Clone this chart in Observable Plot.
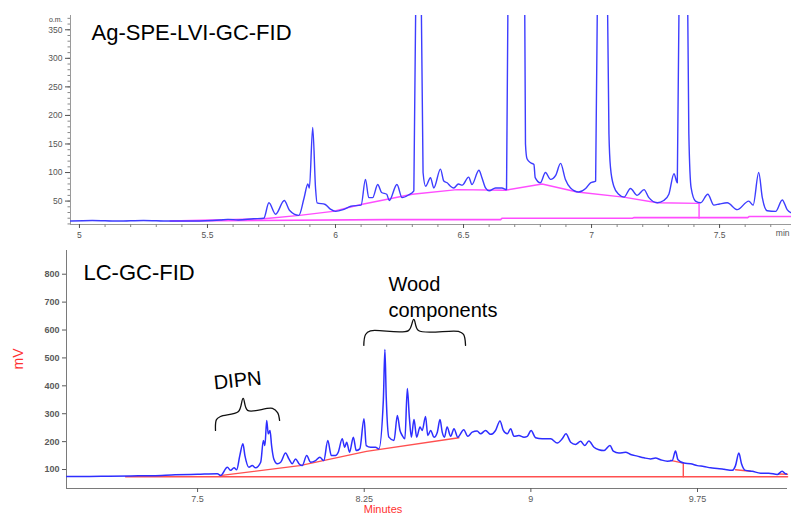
<!DOCTYPE html>
<html><head><meta charset="utf-8">
<script src="https://cdn.jsdelivr.net/npm/d3@7"></script>
<script src="https://cdn.jsdelivr.net/npm/@observablehq/plot@0.6"></script>
<style>
body{margin:0;background:#fff;font-family:"Liberation Sans",Arial,sans-serif;}
#wrap{position:relative;width:791px;height:516px;overflow:hidden;background:#fff;}
#top,#bottom{position:absolute;left:0;}
#top{top:0;}
#bottom{top:240px;}
</style></head>
<body><div id="wrap"><div id="top"></div><div id="bottom"></div></div>
<script>
// ---------- Top panel: Ag-SPE-LVI-GC-FID ----------
const topTitle = "Ag-SPE-LVI-GC-FID";
const topXTicks = [5, 5.5, 6, 6.5, 7, 7.5];
const topYTicks = [50, 100, 150, 200, 250, 300, 350];
const topTime = [4.965,5.05,5.15,5.25,5.35,5.45,5.55,5.58,5.62,5.68,5.72,5.74,5.766,5.80,5.82,5.857,5.877,5.892,5.898,5.911,5.922,5.928,5.96,5.98,6.0,6.03,6.06,6.10,6.117,6.13,6.145,6.165,6.18,6.2,6.21,6.24,6.26,6.286,6.306,6.315,6.324,6.333,6.342,6.352,6.371,6.384,6.41,6.423,6.436,6.449,6.462,6.48,6.495,6.52,6.533,6.56,6.572,6.586,6.60,6.625,6.65,6.668,6.676,6.70,6.72,6.737,6.742,6.748,6.762,6.775,6.78,6.80,6.82,6.84,6.86,6.879,6.898,6.918,6.95,6.977,6.996,7.016,7.026,7.043,7.058,7.068,7.074,7.087,7.106,7.127,7.152,7.178,7.205,7.224,7.257,7.282,7.302,7.322,7.335,7.345,7.36,7.372,7.38,7.389,7.406,7.426,7.454,7.478,7.50,7.53,7.569,7.614,7.631,7.653,7.667,7.686,7.719,7.745,7.764,7.781];
const topSignal = [15,16,15,16,15,15,17,18,17,19,20,47,27,51,34,25,55,80,73,179,73,47,44,36,32,35,41,43,88,56,56,79,65,62,51,79,56,61,68,500,1200,500,100,76,91,73,106,85,82,76,73,80,78,92,79,104,91,73,68,73,73,70,600,1500,1400,600,150,124,117,114,91,82,100,88,95,116,88,73,66,72,82,85,600,1300,600,168,109,76,62,57,72,60,70,56,47,51,62,98,82,600,1100,600,168,73,50,47,62,43,45,47,35,50,43,100,56,33,32,52,35,29];
const topBaseTime = [5.355,5.72,5.86,5.99,6.10,6.30,6.475,6.664,6.807,6.944,7.125,7.257,7.42,7.42];
const topBaseSignal = [15,19,25,32,44,62,70,69,80,66,57,47,46,20];
const topFloorTime = [5.355,6.2,6.645,6.65,7.16,7.165,7.61,7.615,7.781];
const topFloorSignal = [15,17.6,17.6,19.9,19.9,21.1,21.1,22.9,22.9];

// ---------- Bottom panel: LC-GC-FID ----------
const botTitle = "LC-GC-FID";
const botXTicks = [7.5, 8.25, 9, 9.75];
const botYTicks = [100, 200, 300, 400, 500, 600, 700, 800];
const botTime = [6.91,7.0,7.1,7.2,7.3,7.4,7.5,7.589,7.604,7.634,7.649,7.664,7.676,7.69,7.704,7.713,7.731,7.746,7.761,7.784,7.796,7.803,7.811,7.818,7.826,7.833,7.843,7.859,7.874,7.896,7.911,7.926,7.941,7.956,7.971,7.991,8.009,8.031,8.05,8.068,8.086,8.102,8.121,8.133,8.151,8.162,8.171,8.184,8.201,8.214,8.23,8.249,8.259,8.279,8.301,8.316,8.336,8.343,8.349,8.361,8.384,8.399,8.411,8.421,8.433,8.444,8.453,8.462,8.474,8.486,8.501,8.511,8.526,8.536,8.549,8.564,8.579,8.591,8.601,8.611,8.623,8.639,8.654,8.671,8.698,8.716,8.736,8.758,8.774,8.796,8.819,8.841,8.861,8.876,8.894,8.909,8.924,8.946,8.969,8.984,9.001,9.021,9.051,9.089,9.119,9.141,9.158,9.179,9.201,9.224,9.242,9.261,9.284,9.306,9.329,9.356,9.371,9.396,9.426,9.449,9.479,9.509,9.539,9.561,9.584,9.614,9.636,9.651,9.662,9.689,9.719,9.749,9.778,9.809,9.839,9.869,9.906,9.921,9.936,9.948,9.966,9.996,10.034,10.071,10.109,10.131,10.146,10.155];
const botSignal = [75,75,76,77,78,81,83,85,79,108,97,106,99,150,192,150,108,114,106,126,204,186,276,228,240,186,138,121,126,159,138,121,138,121,114,150,126,132,144,132,204,150,150,162,210,180,198,162,216,168,174,282,186,180,180,174,348,530,360,216,204,294,240,222,210,390,288,216,279,216,252,240,290,222,240,216,234,279,234,216,252,219,246,216,243,219,234,238,228,240,226,240,274,240,228,246,219,222,216,219,240,214,210,210,195,210,228,198,190,201,186,202,180,171,168,186,166,159,162,154,148,142,138,141,135,130,132,166,135,123,121,114,111,106,104,101,97,114,159,121,97,94,87,87,82,94,85,84];
const botBaseTime = [7.60,7.96,8.26,8.676];
const botBaseSignal = [78,114,165,214];
const botBase2Time = [9.629,9.686,9.686];
const botBase2Signal = [133,123,74];
const botBase3Time = [9.921,9.989];
const botBase3Signal = [99,94];
const botBase4Time = [10.115,10.155];
const botBase4Signal = [84,83];
const botFloorTime = [7.176,10.155];
const botFloorSignal = [74,74];

// annotation labels and brace anchor points (data units)
const dipnLabel = "DIPN";
const woodLabel = ["Wood", "components"];
const dipnBraceTime = [7.5806,7.585,7.603,7.684,7.705,7.725,7.837,7.86,7.869];
const dipnBraceSignal = [240,279,290,308,355,312,319,304,276];
const woodBraceTime = [8.248,8.256,8.278,8.449,8.473,8.494,8.674,8.697,8.706];
const woodBraceSignal = [545,584,597,598,638,598,595,584,545];

const zip = (xs, ys) => xs.map((x, i) => ({x, y: ys[i]}));
const font = "'Liberation Sans', Arial, Helvetica, sans-serif";
const plain = d => String(d);

// ---- top chart ----
const tX = [4.965, 7.781], tY = [9, 375];
const topChart = Plot.plot({
  width: 791, height: 240,
  marginLeft: 70, marginRight: 0, marginTop: 15, marginBottom: 16,
  style: {fontFamily: font, background: "transparent"},
  x: {domain: tX},
  y: {domain: tY},
  marks: [
    Plot.ruleX([tX[0]], {stroke: "#9a9a9a"}),
    Plot.ruleY([tY[0]], {stroke: "#9a9a9a"}),
    Plot.axisY(d3.range(10, 371, 10), {tickSize: 2.5, tickFormat: () => "", color: "#888", label: null}),
    Plot.axisY(topYTicks, {tickSize: 5, tickPadding: 3, fontSize: 8.5, tickFormat: plain, color: "#555", label: null}),
    Plot.axisX(d3.range(5, 7.8, 0.1), {tickSize: 3, tickFormat: () => "", color: "#888", label: null}),
    Plot.axisX(topXTicks, {tickSize: 4, tickPadding: 3, fontSize: 8.5, tickFormat: plain, color: "#555", label: null}),
    Plot.line(zip(topFloorTime, topFloorSignal), {x: "x", y: "y", stroke: "#ff4dff", strokeWidth: 1.6}),
    Plot.line(zip(topBaseTime, topBaseSignal), {x: "x", y: "y", stroke: "#ff4dff", strokeWidth: 1.4}),
    Plot.line(zip(topTime, topSignal), {x: "x", y: "y", stroke: "#3d3dff", strokeWidth: 1.4, curve: "monotone-x", clip: true}),
    Plot.text([topTitle], {x: 5.047, y: 345, textAnchor: "start", fontSize: 22, fill: "#000"}),
    Plot.text(["o.m."], {frameAnchor: "top-left", dx: -8, dy: 2, textAnchor: "end", fontSize: 7, fill: "#444"}),
    Plot.text(["min"], {frameAnchor: "bottom-right", dx: -2, dy: 11, textAnchor: "end", fontSize: 8.5, fill: "#555"})
  ]
});
document.getElementById("top").append(topChart);

// ---- bottom chart ----
const bX = [6.91, 10.155], bY = [32, 885];
const botChart = Plot.plot({
  width: 791, height: 276,
  marginLeft: 66, marginRight: 4, marginTop: 10, marginBottom: 28,
  style: {fontFamily: font, background: "transparent"},
  x: {domain: bX},
  y: {domain: bY},
  marks: [
    Plot.ruleX([bX[0]], {stroke: "#7a7a7a"}),
    Plot.ruleY([bY[0]], {stroke: "#7a7a7a"}),
    Plot.axisY(botYTicks, {tickSize: 4, tickPadding: 3, fontSize: 9, fontWeight: "bold", tickFormat: plain, color: "#5a5a5a", label: null}),
    Plot.axisX(botXTicks, {tickSize: 4, tickPadding: 3, fontSize: 9, tickFormat: plain, color: "#5a5a5a", label: null}),
    Plot.line(zip(botFloorTime, botFloorSignal), {x: "x", y: "y", stroke: "#ff5050", strokeWidth: 1.6}),
    Plot.line(zip(botBaseTime, botBaseSignal), {x: "x", y: "y", stroke: "#ff5050", strokeWidth: 1.4}),
    Plot.line(zip(botBase2Time, botBase2Signal), {x: "x", y: "y", stroke: "#ff5050", strokeWidth: 1.4}),
    Plot.line(zip(botBase3Time, botBase3Signal), {x: "x", y: "y", stroke: "#ff5050", strokeWidth: 1.4}),
    Plot.line(zip(botBase4Time, botBase4Signal), {x: "x", y: "y", stroke: "#ff5050", strokeWidth: 1.4}),
    Plot.line(zip(botTime, botSignal), {x: "x", y: "y", stroke: "#2e2eff", strokeWidth: 1.5, curve: "monotone-x", clip: true}),
    Plot.line(zip(dipnBraceTime, dipnBraceSignal), {x: "x", y: "y", stroke: "#111", strokeWidth: 1.3, curve: "catmull-rom"}),
    Plot.line(zip(woodBraceTime, woodBraceSignal), {x: "x", y: "y", stroke: "#111", strokeWidth: 1.3, curve: "catmull-rom"}),
    Plot.text([botTitle], {x: 6.9865, y: 804, textAnchor: "start", fontSize: 22, fill: "#000"}),
    Plot.text([dipnLabel], {x: 7.68, y: 419, fontSize: 20, rotate: -6, fill: "#000"}),
    Plot.text([woodLabel[0]], {x: 8.359, y: 763, textAnchor: "start", fontSize: 20, fill: "#000"}),
    Plot.text([woodLabel[1]], {x: 8.359, y: 668, textAnchor: "start", fontSize: 20, fill: "#000"}),
    Plot.text(["mV"], {frameAnchor: "left", dx: -48, rotate: -90, fontSize: 14, fill: "#ff3030"}),
    Plot.text(["Minutes"], {frameAnchor: "bottom", dx: -44, dy: 17, lineAnchor: "top", fontSize: 11, fill: "#ff3030"})
  ]
});
document.getElementById("bottom").append(botChart);
</script>
</body></html>
